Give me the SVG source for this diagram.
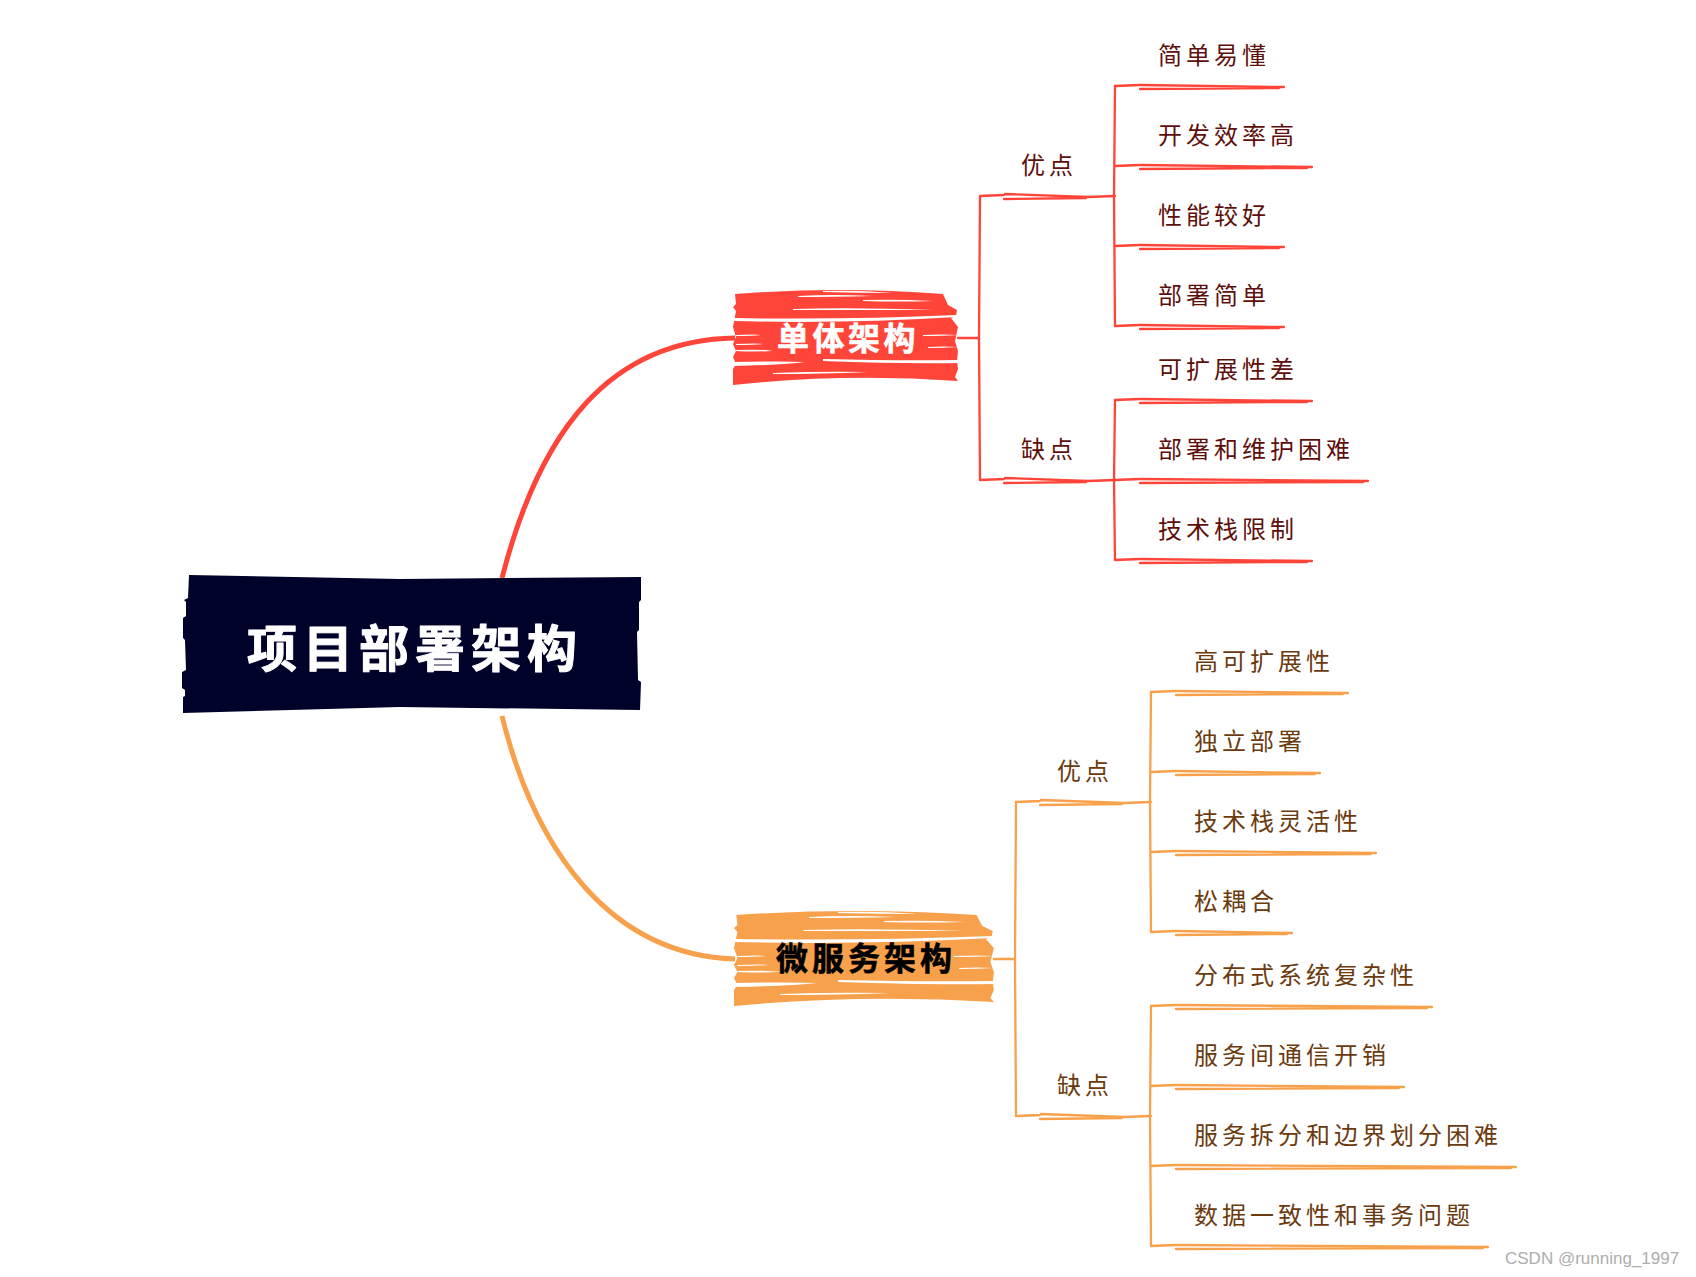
<svg xmlns="http://www.w3.org/2000/svg" width="1696" height="1277" viewBox="0 0 1696 1277">
<style>
text{font-family:"Noto Sans CJK SC","Noto Sans",sans-serif;dominant-baseline:central}
.leaf{font-size:24px;letter-spacing:4px;font-weight:400}
.r{fill:#5e0f0c}.o{fill:#6b3a0e}
.lr{fill:none;stroke:#ff4539;stroke-width:2.3;stroke-linecap:round}
.lo{fill:none;stroke:#f7a14c;stroke-width:2.3;stroke-linecap:round}
.topic{font-size:32px;font-weight:700;letter-spacing:3.5px;stroke-width:.6px;stroke-linejoin:round}
</style>
<defs>
<g id="brush">
<path d="M2 5Q105 -3 210 5L215 16L224 21L223 27L218 29L225 38L222 52L225 62L224 72L225 80L222 88L225 92Q110 84 0 96L0 80L3 75L0 68L3 62L0 55L3 48L0 38L3 22L0 18L3 15Z"/>
<path fill="#fff" d="M0 29Q110 31 224 26L224 28Q110 35 0 32ZM90 2Q125 1 160 4Q125 4 90 3ZM65 7Q100 5 140 7Q100 8 65 8ZM130 11Q165 10 200 12Q165 13 130 12ZM0 73Q50 72 72 73Q50 76 0 77ZM90 70Q170 72 225 71L225 74Q170 75 90 72ZM40 84Q90 82 135 83Q90 85 40 85ZM3 55Q25 54 30 55Q20 56 3 56ZM3 61Q30 60 40 62Q20 63 3 62ZM190 46Q210 45 225 46Q210 47 190 47ZM195 58Q210 57 225 58Q210 59 195 59ZM3 46Q20 45 28 46Q20 47 3 47ZM60 20Q120 18 200 21Q120 21 60 21Z"/>
</g>
</defs>
<g id="connectors">
<path d="M502 578C540 430 610 340 735 338" fill="none" stroke="#ff4539" stroke-width="5"/>
<path d="M502 716C535 850 610 955 735 959" fill="none" stroke="#f7a14c" stroke-width="5"/>
<path class="lr" d="M958 338H979M980 196L979 338L980 480"/>
<path class="lr" d="M980 196L1004 195M1005 194L1088 197M1004 199L1086 198M1088 197L1115 196"/>
<path class="lr" d="M980 480L1004 479M1005 478L1088 481M1004 483L1086 482M1088 481L1115 480"/>
<path class="lr" d="M1115 86L1114 196L1115 326M1115 400L1114 480L1115 560"/>
<path class="lr" d="M1115 86L1140 85M1141 85L1284 87M1140 89L1279 88"/>
<path class="lr" d="M1115 166L1140 165M1141 165L1312 167M1140 169L1307 168"/>
<path class="lr" d="M1115 246L1140 245M1141 245L1284 247M1140 249L1279 248"/>
<path class="lr" d="M1115 326L1140 325M1141 325L1284 327M1140 329L1279 328"/>
<path class="lr" d="M1115 400L1140 399M1141 399L1312 401M1140 403L1307 402"/>
<path class="lr" d="M1115 480L1140 479M1141 479L1368 481M1140 483L1363 482"/>
<path class="lr" d="M1115 560L1140 559M1141 559L1312 561M1140 563L1307 562"/>
<path class="lo" d="M994 959H1015M1016 802L1015 959L1016 1116"/>
<path class="lo" d="M1016 802L1040 801M1041 800L1124 803M1040 805L1122 804M1124 803L1151 802"/>
<path class="lo" d="M1016 1116L1040 1115M1041 1114L1124 1117M1040 1119L1122 1118M1124 1117L1151 1116"/>
<path class="lo" d="M1151 692L1150 802L1151 932M1151 1006L1150 1116L1151 1246"/>
<path class="lo" d="M1151 692L1176 691M1177 691L1348 693M1176 695L1343 694"/>
<path class="lo" d="M1151 772L1176 771M1177 771L1320 773M1176 775L1315 774"/>
<path class="lo" d="M1151 852L1176 851M1177 851L1376 853M1176 855L1371 854"/>
<path class="lo" d="M1151 932L1176 931M1177 931L1292 933M1176 935L1287 934"/>
<path class="lo" d="M1151 1006L1176 1005M1177 1005L1432 1007M1176 1009L1427 1008"/>
<path class="lo" d="M1151 1086L1176 1085M1177 1085L1404 1087M1176 1089L1399 1088"/>
<path class="lo" d="M1151 1166L1176 1165M1177 1165L1516 1167M1176 1169L1511 1168"/>
<path class="lo" d="M1151 1246L1176 1245M1177 1245L1488 1247M1176 1249L1483 1248"/>
</g>
<g id="root">
<path fill="#000229" d="M189 575L400 579L641 577L641 600L639 602L639 630L637 632L638 680L641 682L640 710L400 707L183 713L183 697L185 696L185 690L182 688L182 672L186 670L185 640L183 638L183 618L186 616L186 602L184 600L188 598L189 575Z"/>
<text x="247" y="645" font-size="50" font-weight="700" letter-spacing="6" fill="#fff" stroke="#fff" stroke-width="1" stroke-linejoin="round">项目部署架构</text>
</g>
<g id="topic-mono">
<use href="#brush" x="733" y="289" fill="#ff4539"/>
<text class="topic" x="777" y="336" fill="#fff" stroke="#fff">单体架构</text>
</g>
<g id="topic-micro">
<use href="#brush" transform="translate(734 910) scale(1.155 1)" fill="#f7a14c"/>
<text class="topic" x="776" y="956" fill="#000" stroke="#000" style="letter-spacing:4px">微服务架构</text>
</g>
<g id="n1"><text class="leaf r" x="1021" y="163">优点</text></g>
<g id="n2"><text class="leaf r" x="1021" y="447">缺点</text></g>
<g id="n3"><text class="leaf r" x="1158" y="53">简单易懂</text></g>
<g id="n4"><text class="leaf r" x="1158" y="133">开发效率高</text></g>
<g id="n5"><text class="leaf r" x="1158" y="213">性能较好</text></g>
<g id="n6"><text class="leaf r" x="1158" y="293">部署简单</text></g>
<g id="n7"><text class="leaf r" x="1158" y="367">可扩展性差</text></g>
<g id="n8"><text class="leaf r" x="1158" y="447">部署和维护困难</text></g>
<g id="n9"><text class="leaf r" x="1158" y="527">技术栈限制</text></g>
<g id="n10"><text class="leaf o" x="1057" y="769">优点</text></g>
<g id="n11"><text class="leaf o" x="1057" y="1083">缺点</text></g>
<g id="n12"><text class="leaf o" x="1194" y="659">高可扩展性</text></g>
<g id="n13"><text class="leaf o" x="1194" y="739">独立部署</text></g>
<g id="n14"><text class="leaf o" x="1194" y="819">技术栈灵活性</text></g>
<g id="n15"><text class="leaf o" x="1194" y="899">松耦合</text></g>
<g id="n16"><text class="leaf o" x="1194" y="973">分布式系统复杂性</text></g>
<g id="n17"><text class="leaf o" x="1194" y="1053">服务间通信开销</text></g>
<g id="n18"><text class="leaf o" x="1194" y="1133">服务拆分和边界划分困难</text></g>
<g id="n19"><text class="leaf o" x="1194" y="1213">数据一致性和事务问题</text></g>
<text x="1505" y="1258" font-size="17" fill="#aeaeae" style="font-family:'Liberation Sans',sans-serif">CSDN @running_1997</text>
</svg>
